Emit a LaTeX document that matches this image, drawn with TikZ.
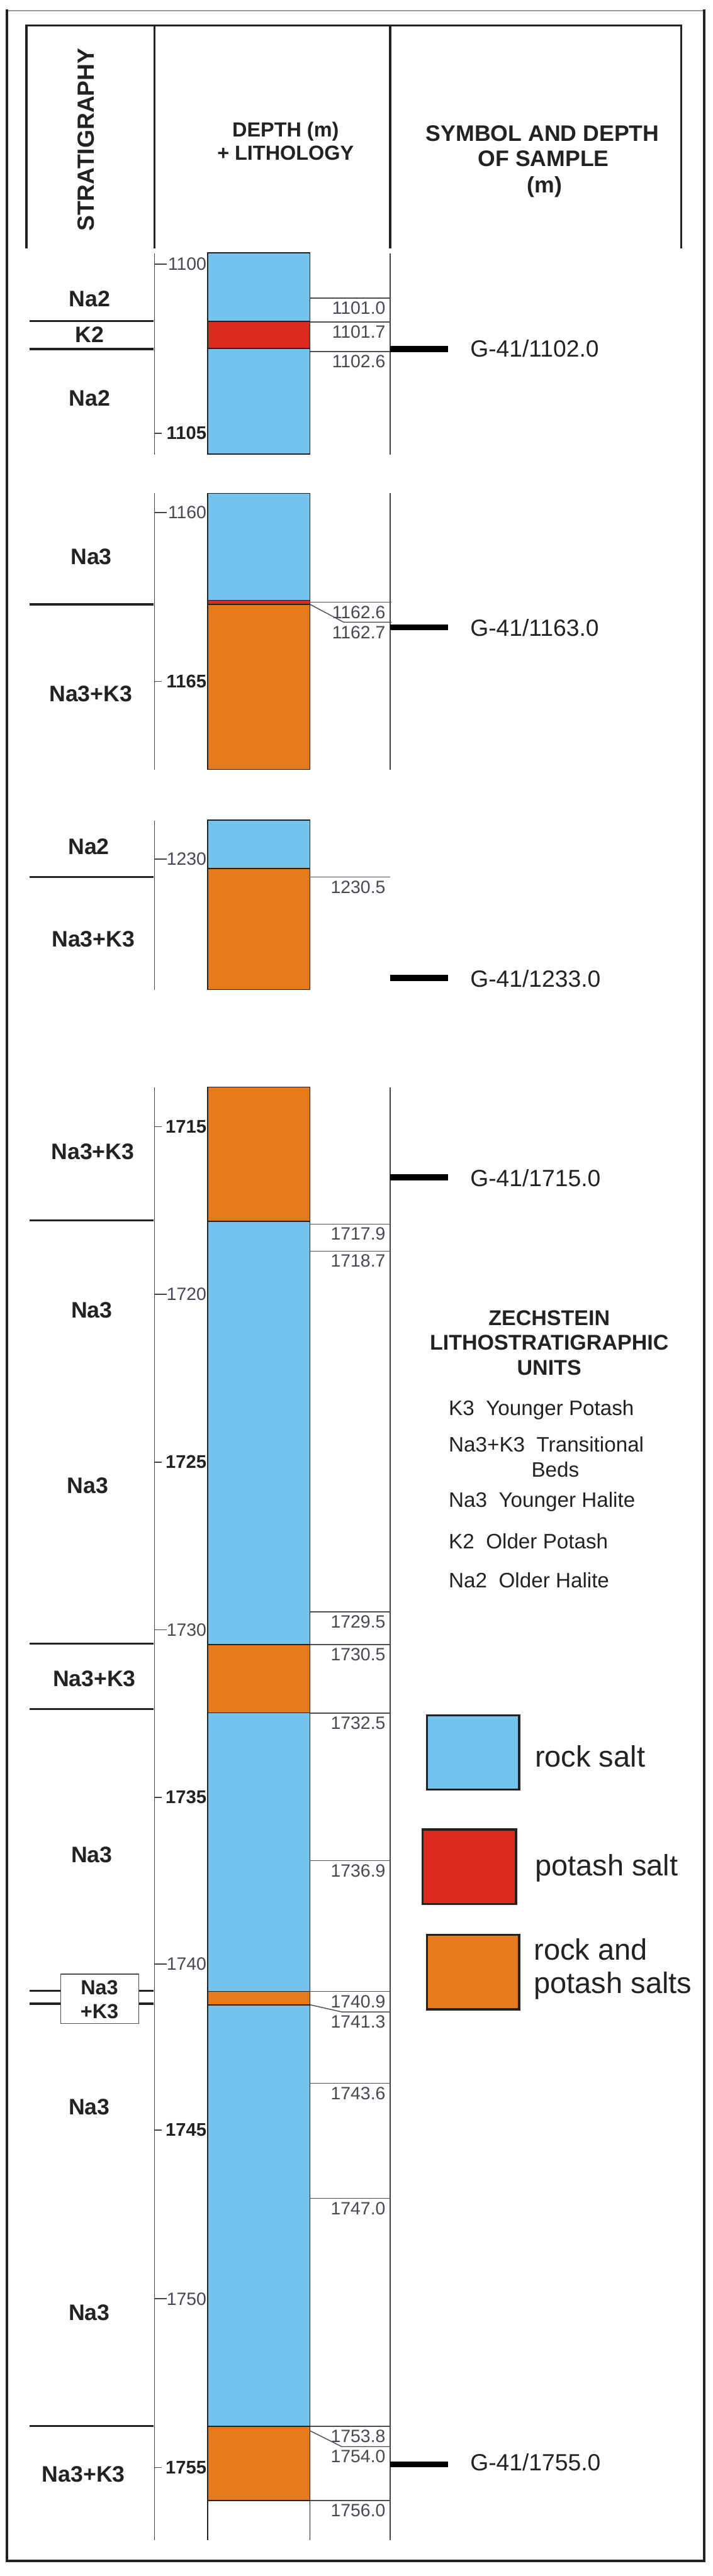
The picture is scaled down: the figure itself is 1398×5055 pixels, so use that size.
\documentclass[tikz,border=0pt]{standalone}
\usepackage{fontspec}
\setmainfont{Liberation Sans}
\definecolor{salt}{HTML}{74C3EE}
\definecolor{potash}{HTML}{DD2A1E}
\definecolor{mixed}{HTML}{E57A1A}
\definecolor{ink}{HTML}{222222}
\definecolor{grayink}{HTML}{474755}
\newcommand\lithunit[3]{\filldraw[lith, fill=#1] (407,#2) rectangle (608,#3);}
\begin{document}
\begin{tikzpicture}[x=1pt,y=-1pt,
  hdr/.style={line width=4.5pt, draw=ink},
  sepline/.style={line width=4pt, draw=ink},
  axisline/.style={line width=2pt, draw=ink!85},
  lith/.style={draw=ink, line width=2pt},
  lead/.style={line width=1.8pt, draw=ink!80},
  bar/.style={line width=12pt, draw=black},
  lgbox/.style={line width=4pt, draw=ink},
  hdrtext/.style={font=\fontsize{40}{46}\selectfont\bfseries, text=ink, inner sep=0, anchor=base},
  stratlbl/.style={font=\fontsize{44}{50}\selectfont\bfseries, text=ink, inner sep=0},
  tickR/.style={font=\fontsize{35}{40}\selectfont, text=grayink, anchor=east, inner sep=0},
  tickB/.style={font=\fontsize{36}{40}\selectfont\bfseries, text=ink, anchor=east, inner sep=0},
  dlbl/.style={font=\fontsize{35}{40}\selectfont, text=grayink, anchor=north east, inner sep=0},
  sample/.style={font=\fontsize{46}{50}\selectfont, text=ink, anchor=west, inner sep=0},
  legtxt/.style={font=\fontsize{41}{46}\selectfont, text=ink, anchor=west, inner sep=0},
  legbig/.style={font=\fontsize{58}{64}\selectfont, text=ink, anchor=west, inner sep=0},
]
\useasboundingbox (0,0) rectangle (1398,5055);
\fill[white] (0,0) rectangle (1398,5055);

% ---------- outer frame ----------
\draw[line width=1.5pt, draw=black!40] (14,21) -- (1381,21);
\draw[line width=5pt, draw=ink] (14,19) -- (14,5025) -- (1381,5025) -- (1381,19);

% ---------- header ----------
\draw[hdr] (52,488) -- (52,50) -- (1336,50) -- (1336,488);
\draw[hdr] (303,50) -- (303,488);
\draw[hdr] (765,50) -- (765,488);
\node[font=\fontsize{46}{50}\selectfont\bfseries, text=ink, inner sep=0, rotate=90] (hstrat) at (169,274) {STRATIGRAPHY};
\node[hdrtext] (hdepth1) at (560,269) {DEPTH (m)};
\node[hdrtext] (hdepth2) at (560,314) {+ LITHOLOGY};
\node[hdrtext, font=\fontsize{44}{50}\selectfont\bfseries] (hsym1) at (1064,277) {SYMBOL AND DEPTH};
\node[hdrtext, font=\fontsize{44}{50}\selectfont\bfseries] (hsym2) at (1066,327) {OF SAMPLE};
\node[hdrtext, font=\fontsize{44}{50}\selectfont\bfseries] (hsym3) at (1068,378) {(m)};

% ================= SECTION 1 : 1100 =================
\draw[axisline] (303,497) -- (303,892);
\draw[axisline] (765,497) -- (765,892);
\lithunit{salt}{496}{631}
\lithunit{potash}{631}{684}
\lithunit{salt}{684}{891}
\draw[axisline] (303,518) -- (327,518);
\node[tickR] (t1100) at (405,518) {1100};
\draw[axisline] (303,850) -- (317,850);
\node[tickB] (t1105) at (405,850) {1105};
\draw[sepline] (58,630) -- (301,630);
\draw[sepline] (58,685) -- (301,685);
\node[stratlbl] (s1a) at (176,587) {Na2};
\node[stratlbl] (s1b) at (176,657) {K2};
\node[stratlbl] (s1c) at (176,782) {Na2};
\draw[lead] (608,585) -- (765,585);
\node[dlbl] (d11010) at (756,592) {1101.0};
\draw[lead] (608,632) -- (765,632);
\node[dlbl] (d11017) at (756,639) {1101.7};
\draw[lead] (608,690) -- (765,690);
\node[dlbl] (d11026) at (756,697) {1102.6};
\draw[bar] (765,685) -- (879,685);
\node[sample] (g1102) at (922,684) {G-41/1102.0};

% ================= SECTION 2 : 1160 =================
\draw[axisline] (303,968) -- (303,1510);
\draw[axisline] (765,968) -- (765,1510);
\lithunit{salt}{968}{1178}
\lithunit{potash}{1178}{1186}
\lithunit{mixed}{1186}{1510}
\draw[axisline] (303,1006) -- (327,1006);
\node[tickR] (t1160) at (405,1006) {1160};
\draw[axisline] (303,1337) -- (317,1337);
\node[tickB] (t1165) at (405,1337) {1165};
\draw[sepline] (58,1186) -- (301,1186);
\node[stratlbl] (s2a) at (179,1092) {Na3};
\node[stratlbl] (s2b) at (178,1362) {Na3+K3};
\draw[lead] (608,1182) -- (768,1182);
\node[dlbl] (d11626) at (756,1189) {1162.6};
\draw[lead] (608,1186) -- (674,1221) -- (768,1221);
\node[dlbl] (d11627) at (756,1228) {1162.7};
\draw[bar] (765,1231) -- (879,1231);
\node[sample] (g1163) at (922,1232) {G-41/1163.0};

% ================= SECTION 3 : 1230 =================
\draw[axisline] (303,1610) -- (303,1942);
\lithunit{salt}{1609}{1704}
\lithunit{mixed}{1704}{1942}
\draw[axisline] (303,1686) -- (327,1686);
\node[tickR] (t1230) at (405,1686) {1230};
\draw[sepline] (58,1721) -- (301,1721);
\node[stratlbl] (s3a) at (174,1661) {Na2};
\node[stratlbl] (s3b) at (183,1843) {Na3+K3};
\draw[lead] (608,1721) -- (765,1721);
\node[dlbl] (d12305) at (756,1728) {1230.5};
\draw[bar] (765,1919) -- (879,1919);
\node[sample] (g1233) at (922,1920) {G-41/1233.0};

% ================= SECTION 4 : 1715-1756 =================
\draw[axisline] (303,2134) -- (303,4984);
\draw[axisline] (765,2134) -- (765,4984);
\draw[lith] (407,4907) -- (407,4984);
\draw[lith] (608,4907) -- (608,4984);
\lithunit{mixed}{2133}{2397}
\lithunit{salt}{2397}{3227}
\lithunit{mixed}{3227}{3361}
\lithunit{salt}{3361}{3908}
\lithunit{mixed}{3908}{3934}
\lithunit{salt}{3934}{4761}
\lithunit{mixed}{4761}{4907}
% ticks
\draw[axisline] (303,2211) -- (317,2211);
\node[tickB] (t1715) at (405,2211) {1715};
\draw[axisline] (303,2540) -- (327,2540);
\node[tickR] (t1720) at (405,2540) {1720};
\draw[axisline] (303,2869) -- (317,2869);
\node[tickB] (t1725) at (405,2869) {1725};
\draw[axisline] (303,3198) -- (327,3198);
\node[tickR] (t1730) at (405,3198) {1730};
\draw[axisline] (303,3527) -- (317,3527);
\node[tickB] (t1735) at (405,3527) {1735};
\draw[axisline] (303,3854) -- (327,3854);
\node[tickR] (t1740) at (405,3854) {1740};
\draw[axisline] (303,4180) -- (317,4180);
\node[tickB] (t1745) at (405,4180) {1745};
\draw[axisline] (303,4511) -- (327,4511);
\node[tickR] (t1750) at (405,4511) {1750};
\draw[axisline] (303,4842) -- (317,4842);
\node[tickB] (t1755) at (405,4842) {1755};
% stratigraphy
\draw[sepline] (58,2395) -- (301,2395);
\draw[sepline] (58,3225) -- (301,3225);
\draw[sepline] (58,3354) -- (301,3354);
\draw[sepline] (58,4761) -- (301,4761);
\node[stratlbl] (s4a) at (182,2260) {Na3+K3};
\node[stratlbl] (s4b) at (180,2571) {Na3};
\node[stratlbl] (s4c) at (172,2915) {Na3};
\node[stratlbl] (s4d) at (185,3294) {Na3+K3};
\node[stratlbl] (s4e) at (180,3640) {Na3};
\node[draw=ink!80, line width=1.8pt, minimum width=153pt, minimum height=97pt, inner sep=0, fill=white] (s4box) at (195.5,3922.5) {};
\node[stratlbl, font=\fontsize{40}{46}\selectfont\bfseries] (s4f1) at (195,3900) {Na3};
\node[stratlbl, font=\fontsize{40}{46}\selectfont\bfseries] (s4f2) at (195,3947) {+K3};
\draw[sepline] (58,3907) -- (s4box.west |- 0,3907);
\draw[sepline] (58,3932) -- (s4box.west |- 0,3932);
\draw[sepline] (s4box.east |- 0,3907) -- (301,3907);
\draw[sepline] (s4box.east |- 0,3932) -- (301,3932);
\node[stratlbl] (s4g) at (175,4134) {Na3};
\node[stratlbl] (s4h) at (175,4538) {Na3};
\node[stratlbl] (s4i) at (164,4855) {Na3+K3};
% depth labels
\draw[lead] (608,2402) -- (765,2402);
\node[dlbl] (d17179) at (756,2409) {1717.9};
\draw[lead] (608,2455) -- (765,2455);
\node[dlbl] (d17187) at (756,2462) {1718.7};
\draw[lead] (608,3163) -- (765,3163);
\node[dlbl] (d17295) at (756,3170) {1729.5};
\draw[lead] (608,3227) -- (765,3227);
\node[dlbl] (d17305) at (756,3234) {1730.5};
\draw[lead] (608,3362) -- (765,3362);
\node[dlbl] (d17325) at (756,3369) {1732.5};
\draw[lead] (608,3651) -- (765,3651);
\node[dlbl] (d17369) at (756,3658) {1736.9};
\draw[lead] (608,3908) -- (765,3908);
\node[dlbl] (d17409) at (756,3915) {1740.9};
\draw[lead] (608,3934) -- (670,3948) -- (765,3948);
\node[dlbl] (d17413) at (756,3955) {1741.3};
\draw[lead] (608,4088) -- (765,4088);
\node[dlbl] (d17436) at (756,4095) {1743.6};
\draw[lead] (608,4314) -- (765,4314);
\node[dlbl] (d17470) at (756,4321) {1747.0};
\draw[lead] (608,4761) -- (765,4761);
\node[dlbl] (d17538) at (756,4768) {1753.8};
\draw[lead] (608,4770) -- (670,4801) -- (765,4801);
\node[dlbl] (d17540) at (756,4808) {1754.0};
\draw[lead] (608,4907) -- (765,4907);
\node[dlbl] (d17560) at (756,4914) {1756.0};
% samples
\draw[bar] (765,2310) -- (879,2310);
\node[sample] (g1715) at (922,2312) {G-41/1715.0};
\draw[bar] (765,4836) -- (879,4836);
\node[sample] (g1755) at (922,4832) {G-41/1755.0};

% ---------- legend ----------
\node[font=\fontsize{42}{49}\selectfont\bfseries, text=ink, inner sep=0, align=center] (lhead) at (1077,2635) {ZECHSTEIN\\LITHOSTRATIGRAPHIC\\UNITS};
\node[legtxt] (lk3) at (880,2767) {K3\ \ Younger Potash};
\node[legtxt] (lna3k3) at (880,2834) {Na3+K3\ \ Transitional};
\node[legtxt, anchor=center] (lbeds) at (1089,2884) {Beds};
\node[legtxt] (lna3) at (880,2947) {Na3\ \ Younger Halite};
\node[legtxt] (lk2) at (880,3024) {K2\ \ Older Potash};
\node[legtxt] (lna2) at (880,3101) {Na2\ \ Older Halite};

\filldraw[lgbox, fill=salt] (837,3366) rectangle (1018,3512);
\coordinate (b1) at (1018,3439);
\node[legbig] (lrock) at (1049,3446) {rock salt};
\filldraw[lgbox, fill=potash] (829,3590) rectangle (1012,3736);
\node[legbig] (lpotash) at (1049,3666) {potash salt};
\filldraw[lgbox, fill=mixed] (837,3797) rectangle (1018,3943);
\node[legbig, align=left, font=\fontsize{58}{66}\selectfont] (lmixed) at (1047,3864) {rock and\\potash salts};
\end{tikzpicture}
\end{document}
